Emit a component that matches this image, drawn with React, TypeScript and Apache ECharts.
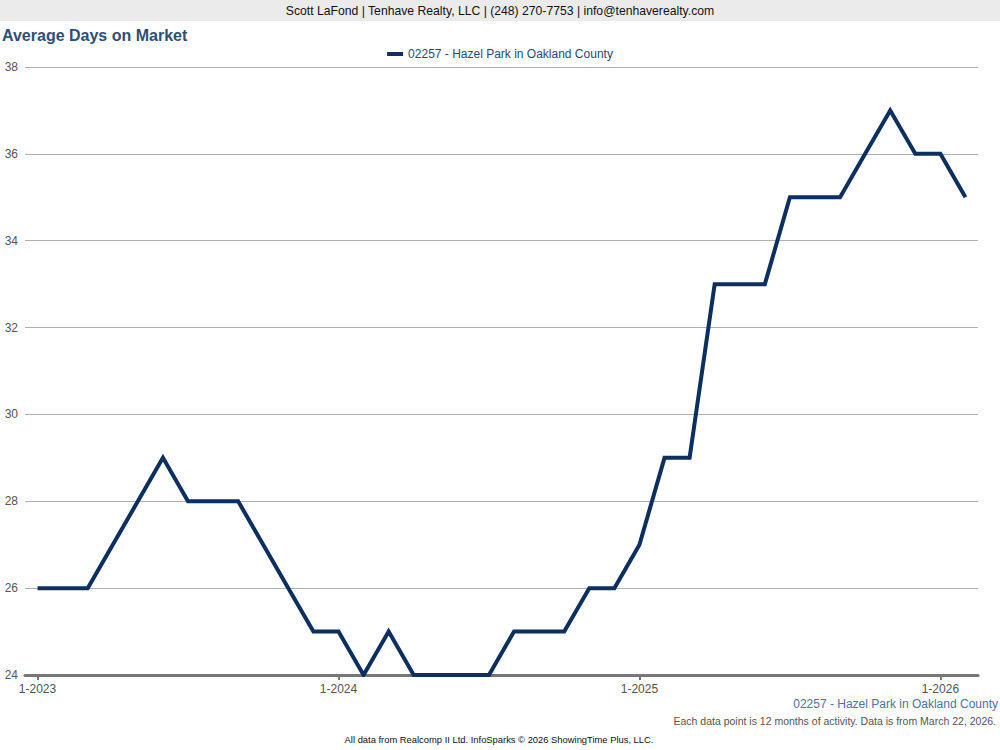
import React, { useEffect, useRef } from "react";
import * as echarts from "echarts";

const months: string[] = [];
for (let y = 2023; y <= 2026; y++) {
  for (let m = 1; m <= 12; m++) {
    if (y === 2026 && m > 2) break;
    months.push(`${m}-${y}`);
  }
}
const seriesName = "02257 - Hazel Park in Oakland County";
const values = [
  26, 26, 26, 27, 28, 29, 28, 28, 28, 27, 26, 25,
  25, 24, 25, 24, 24, 24, 24, 25, 25, 25, 26, 26,
  27, 29, 29, 33, 33, 33, 35, 35, 35, 36, 37, 36,
  36, 35,
];
const yTicks = { min: 24, max: 38, interval: 2 };

const FONT = "Liberation Sans, Arial, sans-serif";

export default function App() {
  const ref = useRef<HTMLDivElement>(null);
  useEffect(() => {
    if (!ref.current) return;
    const chart = echarts.init(ref.current, undefined, { renderer: "svg" });
    chart.setOption({
      animation: false,
      backgroundColor: "#fff",
      textStyle: { fontFamily: FONT },
      graphic: [
        { type: "rect", shape: { x: 0, y: 0, width: 1000, height: 21 }, style: { fill: "#ebebeb" } },
        {
          type: "text", x: 500, y: 11,
          style: { text: "Scott LaFond | Tenhave Realty, LLC | (248) 270-7753 | info@tenhaverealty.com", fill: "#111", font: `12.2px ${FONT}`, textAlign: "center", textVerticalAlign: "middle" },
        },
        {
          type: "text", x: 2, y: 35,
          style: { text: "Average Days on Market", fill: "#2b5079", font: `bold 16px ${FONT}`, textAlign: "left", textVerticalAlign: "middle" },
        },
        {
          type: "text", x: 998, y: 704,
          style: { text: seriesName, fill: "#4a73a6", font: `12px ${FONT}`, textAlign: "right", textVerticalAlign: "middle" },
        },
        {
          type: "text", x: 996, y: 721,
          style: { text: "Each data point is 12 months of activity. Data is from March 22, 2026.", fill: "#555", font: `10.5px ${FONT}`, textAlign: "right", textVerticalAlign: "middle" },
        },
        {
          type: "text", x: 499, y: 739,
          style: { text: "All data from Realcomp II Ltd. InfoSparks \u00a9 2026 ShowingTime Plus, LLC.", fill: "#111", font: `9.4px ${FONT}`, textAlign: "center", textVerticalAlign: "middle" },
        },
      ],
      legend: {
        top: 43, left: "center",
        itemWidth: 16, itemHeight: 4, itemGap: 5,
        icon: "rect",
        textStyle: { color: "#274a78", fontSize: 12, fontFamily: FONT },
        data: [seriesName],
      },
      grid: { left: 25, right: 22, top: 67, bottom: 75, containLabel: false },
      xAxis: {
        type: "category",
        data: months,
        boundaryGap: true,
        axisLine: { show: true, lineStyle: { color: "#777", width: 3 } },
        axisTick: {
          show: true, alignWithLabel: true, length: 5,
          lineStyle: { color: "#777", width: 2 },
          interval: (i: number) => i % 12 === 0,
        },
        axisLabel: {
          color: "#555", fontSize: 12, fontFamily: FONT, margin: 8,
          interval: (i: number) => i % 12 === 0,
        },
        splitLine: { show: false },
      },
      yAxis: {
        type: "value",
        min: yTicks.min, max: yTicks.max, interval: yTicks.interval,
        axisLine: { show: false },
        axisTick: { show: false },
        axisLabel: { color: "#555", fontSize: 12, fontFamily: FONT, margin: 7 },
        splitLine: { lineStyle: { color: "#b0b0b0", width: 1 } },
      },
      series: [
        {
          name: seriesName,
          type: "line",
          data: values,
          showSymbol: false,
          symbol: "none",
          lineStyle: { color: "#0b2f60", width: 4, join: "miter" },
          itemStyle: { color: "#0b2f60" },
        },
      ],
    });
    return () => chart.dispose();
  }, []);
  return <div ref={ref} style={{ width: 1000, height: 750, position: "absolute", left: 0, top: 0 }} />;
}
